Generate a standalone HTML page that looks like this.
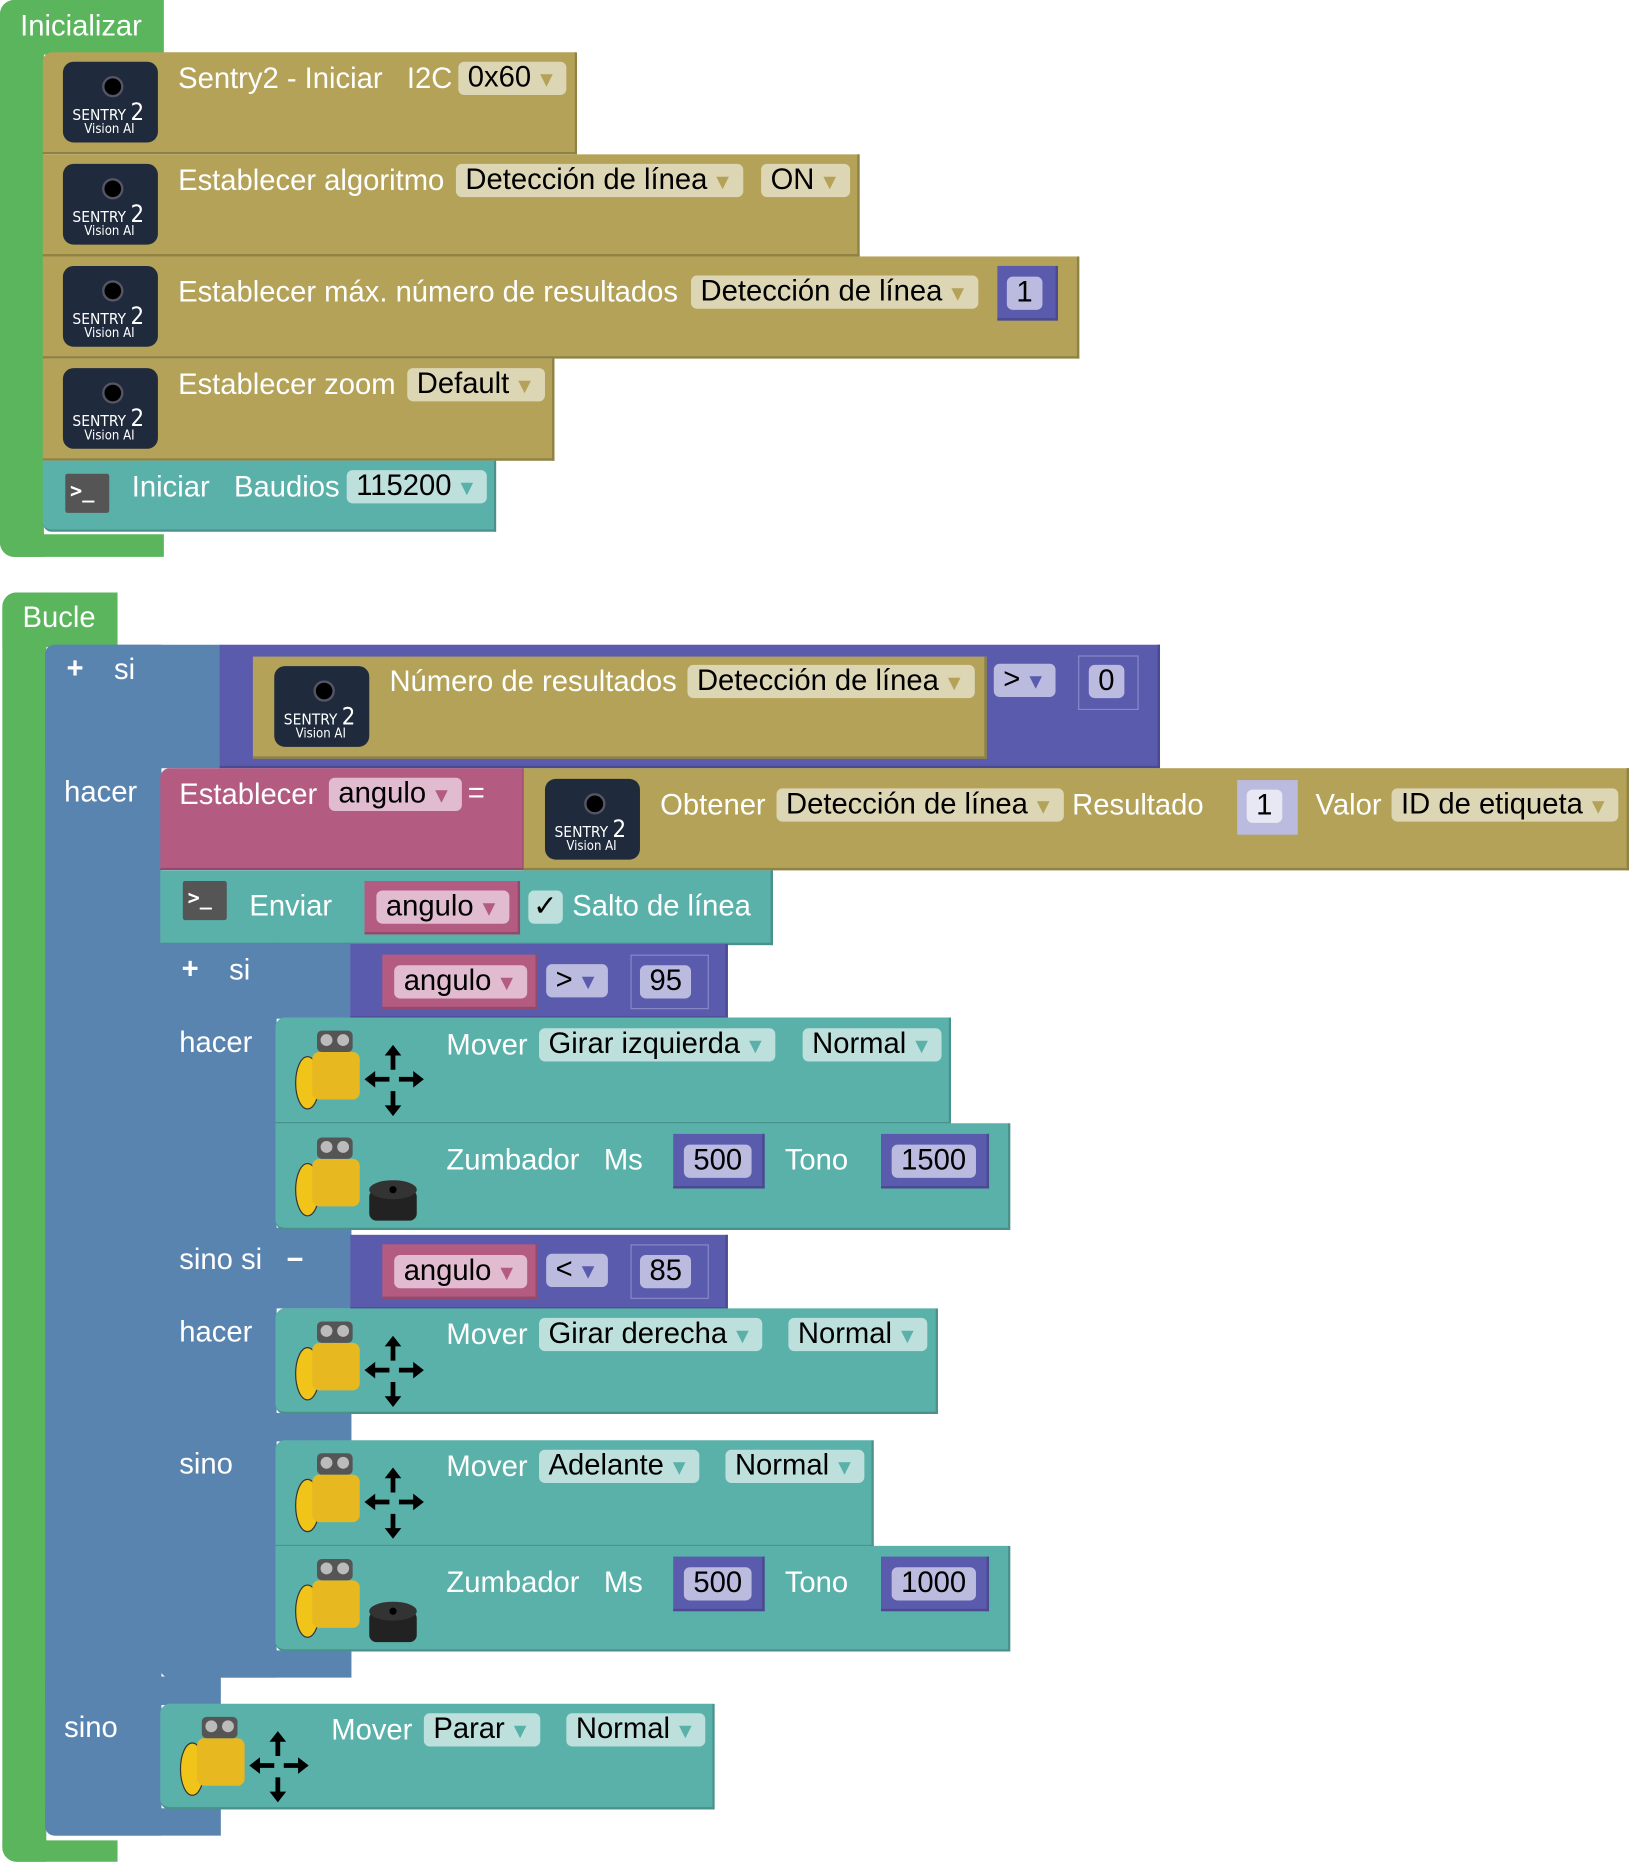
<!DOCTYPE html>
<html><head><meta charset="utf-8"><style>
html,body{margin:0;padding:0;background:#fff;}
body{width:1629px;height:1862px;overflow:hidden;position:relative;}
#w{position:absolute;left:0;top:0;width:1372px;height:1568px;transform:scale(1.18732);transform-origin:0 0;font-family:"Liberation Sans",sans-serif;}
.b{position:absolute;box-sizing:border-box;}
.g{background:#5ab55c;}
.s{background:#b3a257;border-bottom:2px solid #8f8245;border-right:2px solid #8f8245;}
.t{background:#5ab1aa;border-bottom:2px solid #4a918b;border-right:2px solid #4a918b;}
.u{background:#5a84b0;}
.p{background:#5b5bae;border-bottom:2px solid #4a4a90;border-right:2px solid #4a4a90;}
.k{background:#b45b82;border-bottom:2px solid #934a6a;border-right:2px solid #934a6a;}
.x{position:absolute;color:#fff;font-size:24.6px;line-height:28px;white-space:nowrap;margin-top:1px;}
.f{position:absolute;height:28px;line-height:28px;font-size:24.6px;color:#000;padding:0 8px;border-radius:5px;white-space:nowrap;}
.fs{background:#ddd6b5;} .fs i{color:#b3a257;}
.ft{background:#bde0dc;} .ft i{color:#5ab1aa;}
.fp{background:#bbbbdf;} .fp i{color:#5b5bae;}
.fk{background:#e1bcd0;} .fk i{color:#b45b82;}
.f i{font-style:normal;font-size:18px;margin-left:4px;}
.ic{position:absolute;width:80px;height:68px;border-radius:9px;background:#1f2a3c;color:#fff;font-family:"DejaVu Sans Condensed","DejaVu Sans",sans-serif;}
.ic .e{position:absolute;left:33px;top:12px;width:14px;height:14px;border-radius:50%;background:#000;border:2px solid #556;}
.ic .a{position:absolute;left:8px;top:30px;font-size:13px;}
.ic .a b{font-size:20px;font-weight:normal;}
.ic .c{position:absolute;left:18px;top:50px;font-size:11px;}
.term{position:absolute;width:37px;height:33px;background:#555;border-radius:2px;color:#fff;font:bold 17px "DejaVu Sans Mono",monospace;line-height:30px;padding-left:4px;box-sizing:border-box;}
.rob{position:absolute;width:120px;height:80px;}
</style></head><body><div id="w">

<!-- Inicializar -->
<div class="b g" style="left:0;top:0;width:138px;height:46px;border-radius:12px 0 0 0;"></div>
<div class="b g" style="left:0;top:0;width:37px;height:469px;border-radius:12px 0 0 12px;"></div>
<div class="b g" style="left:0;top:450px;width:138px;height:19px;border-radius:0 0 0 12px;"></div>
<div class="x" style="left:17px;top:8px;">Inicializar</div>

<div class="b s" style="left:36px;top:44px;width:450px;height:86px;border-radius:8px 0 0 0;"></div>
<div class="b s" style="left:36px;top:130px;width:688px;height:86px;"></div>
<div class="b s" style="left:36px;top:216px;width:873px;height:86px;"></div>
<div class="b s" style="left:36px;top:302px;width:431px;height:86px;"></div>
<div class="b t" style="left:36px;top:388px;width:382px;height:60px;border-radius:0 0 0 8px;"></div>

<div class="ic" style="left:53px;top:52px;"><div class="e"></div><div class="a">SENTRY <b>2</b></div><div class="c">Vision AI</div></div>
<div class="ic" style="left:53px;top:138px;"><div class="e"></div><div class="a">SENTRY <b>2</b></div><div class="c">Vision AI</div></div>
<div class="ic" style="left:53px;top:224px;"><div class="e"></div><div class="a">SENTRY <b>2</b></div><div class="c">Vision AI</div></div>
<div class="ic" style="left:53px;top:310px;"><div class="e"></div><div class="a">SENTRY <b>2</b></div><div class="c">Vision AI</div></div>

<div class="x" style="left:150px;top:52px;">Sentry2 - Iniciar &nbsp;&nbsp;I2C</div>
<div class="f fs" style="left:386px;top:52px;">0x60<i>▼</i></div>
<div class="x" style="left:150px;top:138px;">Establecer algoritmo</div>
<div class="f fs" style="left:384px;top:138px;">Detección de línea<i>▼</i></div>
<div class="f fs" style="left:641px;top:138px;">ON<i>▼</i></div>
<div class="x" style="left:150px;top:232px;">Establecer máx. número de resultados</div>
<div class="f fs" style="left:582px;top:232px;">Detección de línea<i>▼</i></div>
<div class="b p" style="left:840px;top:224px;width:51px;height:46px;"></div>
<div class="f fp" style="left:848px;top:233px;">1</div>
<div class="x" style="left:150px;top:310px;">Establecer zoom</div>
<div class="f fs" style="left:343px;top:310px;">Default<i>▼</i></div>
<div class="term" style="left:55px;top:399px;">&gt;_</div>
<div class="x" style="left:111px;top:396px;">Iniciar &nbsp;&nbsp;Baudios</div>
<div class="f ft" style="left:292px;top:396px;">115200<i>▼</i></div>

<!-- Bucle -->
<div class="b g" style="left:2px;top:499px;width:97px;height:46px;border-radius:12px 0 0 0;"></div>
<div class="b g" style="left:2px;top:499px;width:37px;height:1069px;border-radius:12px 0 0 12px;"></div>
<div class="b g" style="left:2px;top:1550px;width:97px;height:18px;border-radius:0 0 0 12px;"></div>
<div class="x" style="left:19px;top:506px;">Bucle</div>

<!-- outer if -->
<div class="b u" style="left:38px;top:543px;width:148px;height:104px;border-radius:8px 0 0 0;"></div>
<div class="b u" style="left:38px;top:543px;width:98px;height:1003px;border-radius:8px 0 0 8px;"></div>
<div class="b u" style="left:38px;top:1412px;width:148px;height:24px;"></div>
<div class="b u" style="left:38px;top:1523px;width:148px;height:23px;border-radius:0 0 0 8px;"></div>
<div class="x" style="left:56px;top:549px;font-weight:bold;">+</div>
<div class="x" style="left:96px;top:550px;">si</div>
<div class="x" style="left:54px;top:653px;">hacer</div>
<div class="x" style="left:54px;top:1441px;">sino</div>

<div class="b p" style="left:185px;top:543px;width:792px;height:104px;"></div>
<div class="b s" style="left:213px;top:553px;width:618px;height:86px;"></div>
<div class="ic" style="left:231px;top:561px;"><div class="e"></div><div class="a">SENTRY <b>2</b></div><div class="c">Vision AI</div></div>
<div class="x" style="left:328px;top:560px;">Número de resultados</div>
<div class="f fs" style="left:579px;top:560px;">Detección de línea<i>▼</i></div>
<div class="f fp" style="left:837px;top:559px;">&gt;<i>▼</i></div>
<div class="b p" style="left:908px;top:552px;width:51px;height:46px;border:1px solid #8888c8;"></div>
<div class="f fp" style="left:917px;top:560px;">0</div>

<div class="b k" style="left:135px;top:647px;width:307px;height:86px;border-radius:8px 0 0 0;"></div>
<div class="x" style="left:151px;top:655px;">Establecer</div>
<div class="f fk" style="left:277px;top:655px;">angulo<i>▼</i></div>
<div class="x" style="left:394px;top:654px;">=</div>
<div class="b s" style="left:441px;top:647px;width:931px;height:86px;"></div>
<div class="ic" style="left:459px;top:656px;"><div class="e"></div><div class="a">SENTRY <b>2</b></div><div class="c">Vision AI</div></div>
<div class="x" style="left:556px;top:664px;">Obtener</div>
<div class="f fs" style="left:654px;top:664px;">Detección de línea<i>▼</i></div>
<div class="x" style="left:903px;top:664px;">Resultado</div>
<div class="b" style="left:1042px;top:657px;width:51px;height:46px;background:#bbbbdf;"></div>
<div class="f" style="left:1050px;top:665px;background:#e8e8f4;">1</div>
<div class="x" style="left:1108px;top:664px;">Valor</div>
<div class="f fs" style="left:1172px;top:664px;">ID de etiqueta<i>▼</i></div>

<div class="b t" style="left:135px;top:733px;width:516px;height:63px;"></div>
<div class="term" style="left:154px;top:742px;">&gt;_</div>
<div class="x" style="left:210px;top:749px;">Enviar</div>
<div class="b k" style="left:307px;top:742px;width:131px;height:45px;"></div>
<div class="f fk" style="left:317px;top:750px;">angulo<i>▼</i></div>
<div class="f ft" style="left:445px;top:750px;padding:0 4px;">✓</div>
<div class="x" style="left:482px;top:749px;">Salto de línea</div>

<!-- inner if -->
<div class="b u" style="left:135px;top:795px;width:161px;height:63px;"></div>
<div class="b u" style="left:135px;top:795px;width:98px;height:618px;border-radius:0 0 0 8px;"></div>
<div class="b u" style="left:135px;top:1034px;width:161px;height:68px;"></div>
<div class="b u" style="left:135px;top:1190px;width:161px;height:24px;"></div>
<div class="b u" style="left:135px;top:1390px;width:161px;height:23px;border-radius:0 0 0 8px;"></div>
<div class="x" style="left:153px;top:802px;font-weight:bold;">+</div>
<div class="x" style="left:193px;top:803px;">si</div>
<div class="x" style="left:151px;top:864px;">hacer</div>
<div class="x" style="left:151px;top:1047px;">sino si &nbsp;&nbsp;<b>−</b></div>
<div class="x" style="left:151px;top:1108px;">hacer</div>
<div class="x" style="left:151px;top:1219px;">sino</div>

<div class="b p" style="left:295px;top:795px;width:318px;height:63px;"></div>
<div class="b k" style="left:322px;top:804px;width:131px;height:46px;"></div>
<div class="f fk" style="left:332px;top:813px;">angulo<i>▼</i></div>
<div class="f fp" style="left:460px;top:812px;">&gt;<i>▼</i></div>
<div class="b p" style="left:531px;top:804px;width:66px;height:46px;border:1px solid #8888c8;"></div>
<div class="f fp" style="left:539px;top:813px;">95</div>

<div class="b p" style="left:295px;top:1040px;width:318px;height:63px;"></div>
<div class="b k" style="left:322px;top:1048px;width:131px;height:46px;"></div>
<div class="f fk" style="left:332px;top:1057px;">angulo<i>▼</i></div>
<div class="f fp" style="left:460px;top:1056px;">&lt;<i>▼</i></div>
<div class="b p" style="left:531px;top:1048px;width:66px;height:46px;border:1px solid #8888c8;"></div>
<div class="f fp" style="left:539px;top:1057px;">85</div>

<!-- movement blocks -->
<div class="b t" style="left:232px;top:857px;width:569px;height:90px;border-radius:8px 0 0 0;"></div>
<div class="b t" style="left:232px;top:946px;width:619px;height:90px;border-radius:0 0 0 8px;"></div>
<div class="b t" style="left:232px;top:1102px;width:558px;height:89px;border-radius:8px 0 0 8px;"></div>
<div class="b t" style="left:232px;top:1213px;width:504px;height:90px;border-radius:8px 0 0 0;"></div>
<div class="b t" style="left:232px;top:1302px;width:619px;height:89px;border-radius:0 0 0 8px;"></div>
<div class="b t" style="left:135px;top:1435px;width:467px;height:89px;border-radius:8px 0 0 8px;"></div>

<div class="x" style="left:376px;top:866px;">Mover</div>
<div class="f ft" style="left:454px;top:866px;">Girar izquierda<i>▼</i></div>
<div class="f ft" style="left:676px;top:866px;">Normal<i>▼</i></div>
<div class="x" style="left:376px;top:963px;">Zumbador &nbsp;&nbsp;Ms</div>
<div class="b p" style="left:567px;top:955px;width:77px;height:46px;"></div>
<div class="f fp" style="left:576px;top:964px;">500</div>
<div class="x" style="left:661px;top:963px;">Tono</div>
<div class="b p" style="left:742px;top:955px;width:91px;height:46px;"></div>
<div class="f fp" style="left:751px;top:964px;">1500</div>

<div class="x" style="left:376px;top:1110px;">Mover</div>
<div class="f ft" style="left:454px;top:1110px;">Girar derecha<i>▼</i></div>
<div class="f ft" style="left:664px;top:1110px;">Normal<i>▼</i></div>

<div class="x" style="left:376px;top:1221px;">Mover</div>
<div class="f ft" style="left:454px;top:1221px;">Adelante<i>▼</i></div>
<div class="f ft" style="left:611px;top:1221px;">Normal<i>▼</i></div>
<div class="x" style="left:376px;top:1319px;">Zumbador &nbsp;&nbsp;Ms</div>
<div class="b p" style="left:567px;top:1311px;width:77px;height:46px;"></div>
<div class="f fp" style="left:576px;top:1320px;">500</div>
<div class="x" style="left:661px;top:1319px;">Tono</div>
<div class="b p" style="left:742px;top:1311px;width:91px;height:46px;"></div>
<div class="f fp" style="left:751px;top:1320px;">1000</div>

<div class="x" style="left:279px;top:1443px;">Mover</div>
<div class="f ft" style="left:357px;top:1443px;">Parar<i>▼</i></div>
<div class="f ft" style="left:477px;top:1443px;">Normal<i>▼</i></div>

<!-- robot icons -->
<svg class="rob" style="left:245px;top:862px;" viewBox="0 0 120 80"><ellipse cx="14" cy="50" rx="10" ry="22" fill="#f0c419" stroke="#333"/><rect x="18" y="24" width="40" height="40" rx="6" fill="#e8b820"/><rect x="22" y="6" width="30" height="18" rx="4" fill="#555"/><circle cx="30" cy="14" r="5" fill="#bbb"/><circle cx="44" cy="14" r="5" fill="#bbb"/><path d="M86 18 l-7 9h5v12h4v-12h5z M86 78 l-7-9h5v-12h4v12h5z M62 47 l9-7v5h12v4h-12v5z M112 47 l-9-7v5h-12v4h12v5z" fill="#000"/></svg>
<svg class="rob" style="left:245px;top:952px;" viewBox="0 0 120 80"><ellipse cx="14" cy="50" rx="10" ry="22" fill="#f0c419" stroke="#333"/><rect x="18" y="24" width="40" height="40" rx="6" fill="#e8b820"/><rect x="22" y="6" width="30" height="18" rx="4" fill="#555"/><circle cx="30" cy="14" r="5" fill="#bbb"/><circle cx="44" cy="14" r="5" fill="#bbb"/><rect x="66" y="50" width="40" height="26" rx="6" fill="#222"/><ellipse cx="86" cy="50" rx="20" ry="8" fill="#333"/><circle cx="86" cy="50" r="3" fill="#000"/></svg>
<svg class="rob" style="left:245px;top:1107px;" viewBox="0 0 120 80"><ellipse cx="14" cy="50" rx="10" ry="22" fill="#f0c419" stroke="#333"/><rect x="18" y="24" width="40" height="40" rx="6" fill="#e8b820"/><rect x="22" y="6" width="30" height="18" rx="4" fill="#555"/><circle cx="30" cy="14" r="5" fill="#bbb"/><circle cx="44" cy="14" r="5" fill="#bbb"/><path d="M86 18 l-7 9h5v12h4v-12h5z M86 78 l-7-9h5v-12h4v12h5z M62 47 l9-7v5h12v4h-12v5z M112 47 l-9-7v5h-12v4h12v5z" fill="#000"/></svg>
<svg class="rob" style="left:245px;top:1218px;" viewBox="0 0 120 80"><ellipse cx="14" cy="50" rx="10" ry="22" fill="#f0c419" stroke="#333"/><rect x="18" y="24" width="40" height="40" rx="6" fill="#e8b820"/><rect x="22" y="6" width="30" height="18" rx="4" fill="#555"/><circle cx="30" cy="14" r="5" fill="#bbb"/><circle cx="44" cy="14" r="5" fill="#bbb"/><path d="M86 18 l-7 9h5v12h4v-12h5z M86 78 l-7-9h5v-12h4v12h5z M62 47 l9-7v5h12v4h-12v5z M112 47 l-9-7v5h-12v4h12v5z" fill="#000"/></svg>
<svg class="rob" style="left:245px;top:1307px;" viewBox="0 0 120 80"><ellipse cx="14" cy="50" rx="10" ry="22" fill="#f0c419" stroke="#333"/><rect x="18" y="24" width="40" height="40" rx="6" fill="#e8b820"/><rect x="22" y="6" width="30" height="18" rx="4" fill="#555"/><circle cx="30" cy="14" r="5" fill="#bbb"/><circle cx="44" cy="14" r="5" fill="#bbb"/><rect x="66" y="50" width="40" height="26" rx="6" fill="#222"/><ellipse cx="86" cy="50" rx="20" ry="8" fill="#333"/><circle cx="86" cy="50" r="3" fill="#000"/></svg>
<svg class="rob" style="left:148px;top:1440px;" viewBox="0 0 120 80"><ellipse cx="14" cy="50" rx="10" ry="22" fill="#f0c419" stroke="#333"/><rect x="18" y="24" width="40" height="40" rx="6" fill="#e8b820"/><rect x="22" y="6" width="30" height="18" rx="4" fill="#555"/><circle cx="30" cy="14" r="5" fill="#bbb"/><circle cx="44" cy="14" r="5" fill="#bbb"/><path d="M86 18 l-7 9h5v12h4v-12h5z M86 78 l-7-9h5v-12h4v12h5z M62 47 l9-7v5h12v4h-12v5z M112 47 l-9-7v5h-12v4h12v5z" fill="#000"/></svg>

</div></body></html>
